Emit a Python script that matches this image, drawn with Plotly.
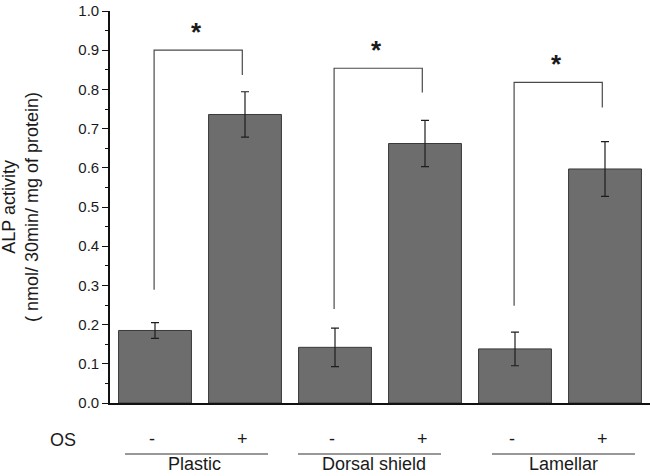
import plotly.graph_objects as go

# ---- data ----
groups = ["Plastic", "Dorsal shield", "Lamellar"]
os_labels = ["-", "+", "-", "+", "-", "+"]
alp_values = [0.185, 0.736, 0.142, 0.662, 0.138, 0.597]
alp_errors = [0.020, 0.058, 0.049, 0.059, 0.043, 0.070]
y_ticks = [0.0, 0.1, 0.2, 0.3, 0.4, 0.5, 0.6, 0.7, 0.8, 0.9, 1.0]
# significance brackets (per group): top, left-leg end, right-leg end
bracket_top = [0.900, 0.854, 0.818]
bracket_left_end = [0.289, 0.240, 0.248]
bracket_right_end = [0.837, 0.792, 0.754]
sig_marks = ["*", "*", "*"]

# ---- layout constants ----
W, H = 650, 476
ML, MR, MT, MB = 110, 0, 11, 73
PW, PH = W - ML - MR, H - MT - MB
XMIN, XMAX = -0.5, 5.5
FONT = "Liberation Sans, Arial, sans-serif"
TXT = "#1a1a1a"

def px_to_paper_y(py):
    return (H - MB - py) / PH

def data_to_paper_x(x):
    return (x - XMIN) / (XMAX - XMIN)

xs = list(range(len(alp_values)))

fig = go.Figure()
fig.add_trace(go.Bar(
    x=xs, y=alp_values, width=0.81,
    marker=dict(color="#6d6d6d", line=dict(color="#3a3a3a", width=1)),
    error_y=dict(type="data", array=alp_errors, visible=True,
                 color="#1e1e1e", thickness=1.2, width=4),
    showlegend=False, hoverinfo="skip",
))

shapes = []
annotations = []

# brackets
for g in range(len(groups)):
    xl, xr = xs[2 * g], xs[2 * g + 1]
    shapes.append(dict(
        type="path", xref="x", yref="y",
        path=f"M {xl - 0.01},{bracket_left_end[g]} L {xl - 0.01},{bracket_top[g]} "
             f"L {xr - 0.03},{bracket_top[g]} L {xr - 0.03},{bracket_right_end[g]}",
        line=dict(color="#4a4a4a", width=1.2),
    ))
    annotations.append(dict(
        x=(xl + xr) / 2 - 0.04, y=bracket_top[g], xref="x", yref="y",
        text=f"<b>{sig_marks[g]}</b>", showarrow=False, yanchor="bottom", yshift=1,
        font=dict(family=FONT, size=26, color=TXT),
    ))

# OS row
annotations.append(dict(
    x=(63 - ML) / PW, y=px_to_paper_y(440), xref="paper", yref="paper",
    text="OS", showarrow=False, xanchor="center", yanchor="middle",
    font=dict(family=FONT, size=18, color=TXT),
))
for i, lab in enumerate(os_labels):
    annotations.append(dict(
        x=data_to_paper_x(xs[i] - 0.03), y=px_to_paper_y(439), xref="paper", yref="paper",
        text=lab, showarrow=False, xanchor="center", yanchor="middle",
        font=dict(family=FONT, size=18, color=TXT),
    ))

# group lines and names
line_offsets = [(-0.333, 1.256), (-0.411, 1.178), (-0.256, 1.333)]
name_offsets = [0.444, 0.433, 0.544]
for g, name in enumerate(groups):
    x0 = xs[2 * g] + line_offsets[g][0]
    x1 = xs[2 * g] + line_offsets[g][1]
    shapes.append(dict(
        type="line", xref="paper", yref="paper",
        x0=data_to_paper_x(x0), x1=data_to_paper_x(x1),
        y0=px_to_paper_y(454), y1=px_to_paper_y(454),
        line=dict(color="#333333", width=1.2),
    ))
    annotations.append(dict(
        x=data_to_paper_x(xs[2 * g] + name_offsets[g]), y=px_to_paper_y(464),
        xref="paper", yref="paper", text=name, showarrow=False,
        xanchor="center", yanchor="middle", borderpad=0,
        font=dict(family=FONT, size=18, color=TXT),
    ))

# y-axis title
annotations.append(dict(
    x=(20 - ML) / PW, y=0.5, xref="paper", yref="paper",
    text="ALP activity<br>( nmol/ 30min/ mg of protein)", showarrow=False,
    textangle=-90, xanchor="center", yanchor="middle",
    font=dict(family=FONT, size=18, color=TXT),
))

fig.update_layout(
    width=W, height=H,
    margin=dict(l=ML, r=MR, t=MT, b=MB, pad=0),
    paper_bgcolor="white", plot_bgcolor="white",
    shapes=shapes, annotations=annotations,
    xaxis=dict(range=[XMIN, XMAX], showgrid=False, zeroline=False,
               showticklabels=False, ticks="", showline=True,
               linecolor="#111111", linewidth=1.6),
    yaxis=dict(range=[0, 1.0], tickvals=y_ticks,
               ticktext=[f"{v:.1f}" for v in y_ticks],
               showgrid=False, zeroline=False, showline=True,
               linecolor="#111111", linewidth=1.6,
               ticks="outside", ticklen=6, tickwidth=1.4, tickcolor="#111111",
               minor=dict(tickvals=[v + 0.05 for v in y_ticks[:-1]],
                          ticks="outside", ticklen=3, tickwidth=1.2, tickcolor="#111111"),
               tickfont=dict(family=FONT, size=15, color=TXT)),
    bargap=0.19,
)

fig.write_html("out.html", config={"displayModeBar": False},
               post_script="document.body.style.margin='0';")
